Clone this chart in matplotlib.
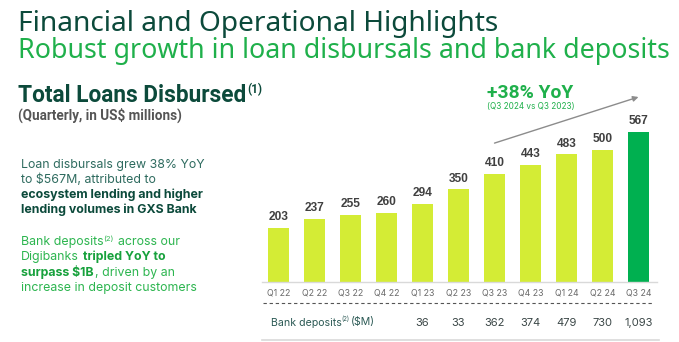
import matplotlib
matplotlib.use("Agg")
import matplotlib.pyplot as plt
from matplotlib.lines import Line2D
from matplotlib import transforms

W, H = 679, 342

quarters = ["Q1 22", "Q2 22", "Q3 22", "Q4 22", "Q1 23", "Q2 23",
            "Q3 23", "Q4 23", "Q1 24", "Q2 24", "Q3 24"]
loans = [203, 237, 255, 260, 294, 350, 410, 443, 483, 500, 567]
deposit_quarters = ["Q1 23", "Q2 23", "Q3 23", "Q4 23", "Q1 24", "Q2 24", "Q3 24"]
deposits = [36, 33, 362, 374, 479, 730, 1093]

DARK = "#0c4a3b"
GREEN = "#1fb04b"
LIME = "#d4ec35"
HIGHLIGHT = "#00b050"

fig = plt.figure(figsize=(W / 100, H / 100), dpi=100)
fig.patch.set_facecolor("white")
r = fig.canvas.get_renderer()


def fx(x):
    return x / W


def fy(y):
    return 1 - y / H


def fit(t, width):
    w = t.get_window_extent(r).width
    t.set_fontsize(t.get_fontsize() * width / w)


# headings
t = fig.text(fx(18), fy(31), "Financial and Operational Highlights", color=DARK,
             fontsize=19, family="Noto Sans", va="baseline")
fit(t, 480)
t = fig.text(fx(18), fy(58), "Robust growth in loan disbursals and bank deposits", color=GREEN,
             fontsize=19, family="Noto Sans", va="baseline")
fit(t, 653)
t = fig.text(fx(18), fy(102), "Total Loans Disbursed", color=DARK, fontsize=15,
             family="Roboto", weight="bold", va="baseline")
fit(t, 229)
ext = t.get_window_extent(r)
fig.text(ext.x1 / W + fx(1), fy(93), "(1)", color=DARK, fontsize=8.5,
         family="Roboto", weight="bold", va="baseline")
t = fig.text(fx(18), fy(120), "(Quarterly, in US$ millions)", color="#555555", fontsize=8,
             family="Roboto", weight="bold", va="baseline")
fit(t, 164)

# left commentary
body_fs = 8.3
t = fig.text(fx(21), fy(168), "Loan disbursals grew 38% YoY", family="Inter",
             fontsize=body_fs, va="baseline")
fit(t, 183)
body_fs = t.get_fontsize()
t.remove()

TEAL = "#2e6b5f"
LGREEN = "#2cb54f"
BGREEN = "#17a13c"
lines = [
    (168, [("Loan disbursals grew 38% YoY", "normal", TEAL, False)]),
    (183, [("to $567M, attributed to", "normal", TEAL, False)]),
    (198, [("ecosystem lending and higher", "bold", DARK, False)]),
    (213, [("lending volumes in GXS Bank", "bold", DARK, False)]),
    (245, [("Bank deposits", "normal", LGREEN, False), ("(2)", "normal", LGREEN, True),
           (" across our", "normal", LGREEN, False)]),
    (260, [("Digibanks", "normal", LGREEN, False), (" tripled YoY to", "bold", BGREEN, False)]),
    (276, [("surpass $1B", "bold", BGREEN, False), (", driven by an", "normal", LGREEN, False)]),
    (291, [("increase in deposit customers", "normal", LGREEN, False)]),
]
sp = fig.text(0, 0, "a a", family="Inter", fontsize=body_fs)
sp_w = sp.get_window_extent(r).width
sp.set_text("aa")
sp_w -= sp.get_window_extent(r).width
sp.remove()
for y, runs in lines:
    x = 21
    for txt, wt, col, sup in runs:
        if txt.startswith(" "):
            x += sp_w
            txt = txt.lstrip()
        if sup:
            tt = fig.text(fx(x - 1.5), fy(y - 4.5), txt, family="Inter", fontsize=body_fs * 0.62,
                          color=col, weight=wt, va="baseline")
        else:
            tt = fig.text(fx(x), fy(y), txt, family="Inter", fontsize=body_fs,
                          color=col, weight=wt, va="baseline")
        x = tt.get_window_extent(r).x1 + 1

# bar chart
base_px = 281.7
scale = 0.2635
ymax = 780
ax = fig.add_axes([fx(262), (H - base_px) / H, fx(395), ymax * scale / H])
xs = list(range(len(quarters)))
colors = [LIME] * (len(loans) - 1) + [HIGHLIGHT]
ax.bar(xs, loans, width=0.59, color=colors)
for x, v in zip(xs, loans):
    ax.annotate(str(v), (x, v), xytext=(0, 3.5), textcoords="offset points",
                ha="center", va="bottom", fontsize=8.6, weight="bold",
                color="#404040", family="Liberation Sans")
ax.set_xlim(-16.5 / 36, 10 + 18.5 / 36)
ax.set_ylim(0, ymax)
ax.set_xticks(xs, quarters)
ax.tick_params(axis="x", length=0, pad=5, labelsize=6.3, labelcolor="#6a6a6a")
for lab in ax.get_xticklabels():
    lab.set_family("Inter")
ax.set_yticks([])
for s in ["top", "right", "left"]:
    ax.spines[s].set_visible(False)
ax.spines["bottom"].set_color("#d9d9d9")
ax.spines["bottom"].set_linewidth(1)
ax.patch.set_alpha(0)

# growth arrow
ax.annotate("", xy=(10, 701), xytext=(6, 526),
            arrowprops=dict(arrowstyle="-|>", color="#8c8c8c", lw=1, mutation_scale=8,
                            shrinkA=0, shrinkB=0))
t = ax.text(7, 716, "+38% YoY", ha="center", va="center", color=GREEN,
            fontsize=11, weight="bold", family="Roboto")
fit(t, 86)
t = ax.text(7, 663, "(Q3 2024 vs Q3 2023)", ha="center", va="center", color=GREEN,
            fontsize=5.5, family="Inter")
fit(t, 88)

# bank deposits row
fig.add_artist(Line2D([fx(263), fx(653)], [fy(303), fy(303)], color="#555555",
                      lw=0.8, ls=(0, (3, 2.5))))
fig.add_artist(Line2D([fx(262), fx(659)], [fy(340), fy(340)], color="#d9d9d9", lw=1.2))
t = fig.text(fx(271), fy(325.5), "Bank deposits", family="Inter", fontsize=7.6,
             color="#2c5a55", va="baseline")
ext = t.get_window_extent(r)
t2 = fig.text(ext.x1 / W - fx(1), fy(321.5), "(2)", family="Inter", fontsize=4.4,
              color="#2c5a55", va="baseline")
ext = t2.get_window_extent(r)
fig.text(ext.x1 / W + fx(2), fy(325.5), "($M)", family="Inter", fontsize=7.6,
         color="#2c5a55", va="baseline")
blend = transforms.blended_transform_factory(ax.transData, fig.transFigure)
for q, v in zip(deposit_quarters, deposits):
    ax.text(quarters.index(q), fy(325.5), f"{v:,}", transform=blend, ha="center",
            va="baseline", fontsize=8, family="Inter", color="#3a4646")

fig.savefig("out.png", dpi=100)
